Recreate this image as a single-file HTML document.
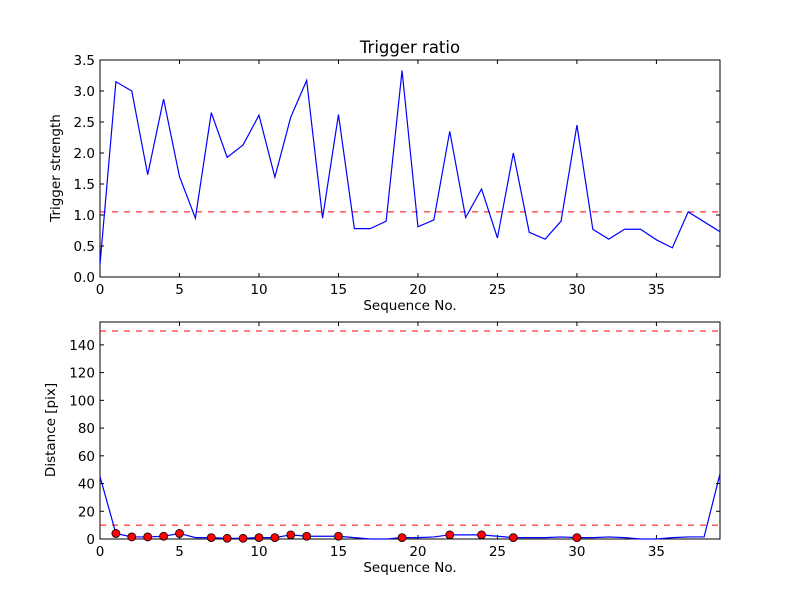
<!DOCTYPE html>
<html><head><meta charset="utf-8"><style>body{margin:0;background:#fff}svg text{font-family:"DejaVu Sans","Liberation Sans",sans-serif}</style></head>
<body>
<svg id="c" width="800" height="600" xmlns="http://www.w3.org/2000/svg"></svg>
<script>
const seq = Array.from({length:40},(_,i)=>i);
const strength = [0.2,3.15,3.0,1.65,2.87,1.62,0.95,2.65,1.93,2.13,2.61,1.61,2.58,3.17,0.95,2.62,0.78,0.78,0.9,3.33,0.81,0.92,2.35,0.96,1.42,0.63,2.0,0.72,0.61,0.9,2.45,0.77,0.61,0.77,0.77,0.6,0.47,1.05,0.89,0.73];
const strengthThreshold = 1.05;
const distance = [45,4,1.5,1.5,2,4,1,1,0.5,0.5,1,1,3,2,2,2,1,0,0,1,1,1.5,3,3,3,2,1,1,1,1.5,1,1,1.5,1,0,0,1,1.5,1.5,47];
const distanceLines = [10,150];
const xTicks = [0,5,10,15,20,25,30,35];
const yTicksTop = [0,0.5,1.0,1.5,2.0,2.5,3.0,3.5];
const yTicksBot = [0,20,40,60,80,100,120,140];
const svg = document.getElementById('c');
const NS='http://www.w3.org/2000/svg';
function mk(t,a,p){const e=document.createElementNS(NS,t);for(const k in a)e.setAttribute(k,a[k]);(p||svg).appendChild(e);return e;}
const L=100,R=720;
const xs=v=>L+(v-0)/39*(R-L);
function panel(top,bot,ymax,ticks,fmt,name){
  const ys=v=>bot-v/ymax*(bot-top);
  const g=mk('g',{});
  
  
  mk('rect',{x:L,y:top,width:R-L,height:bot-top,fill:'#fff',stroke:'#000','stroke-width':1},g);
  xTicks.forEach(t=>{const x=xs(t);
    mk('line',{x1:x,x2:x,y1:bot,y2:bot-4,stroke:'#000'},g);
    mk('line',{x1:x,x2:x,y1:top,y2:top+4,stroke:'#000'},g);
    const tx=mk('text',{x:x,y:bot+17,'text-anchor':'middle','font-size':13.5},g);tx.textContent=t;
    });
  ticks.forEach(t=>{const y=ys(t);
    mk('line',{x1:L,x2:L+4,y1:y,y2:y,stroke:'#000'},g);
    mk('line',{x1:R,x2:R-4,y1:y,y2:y,stroke:'#000'},g);
    const tx=mk('text',{x:L-5,y:y+5,'text-anchor':'end','font-size':13.5},g);tx.textContent=fmt(t);
    });
  const xl=mk('text',{x:(L+R)/2,y:bot+33,'text-anchor':'middle','font-size':13.5},g);xl.textContent='Sequence No.';
  
  return {g,ys};
}
const p1=panel(60,277,3.5,yTicksTop,t=>t.toFixed(1),'trigger-panel');
const cl1=mk('clipPath',{id:'c1'});mk('rect',{x:L,y:60,width:R-L,height:217},cl1);
const th=mk('line',{x1:L,x2:R,y1:p1.ys(strengthThreshold),y2:p1.ys(strengthThreshold),stroke:'#f00','stroke-dasharray':'6,6'},p1.g);

const l1=mk('polyline',{points:seq.map((s,i)=>xs(s)+','+p1.ys(strength[i])).join(' '),fill:'none',stroke:'#00f','stroke-width':1.2,'clip-path':'url(#c1)'},p1.g);

const t1=mk('text',{x:410,y:53,'text-anchor':'middle','font-size':16.5});t1.textContent='Trigger ratio';

const yl1=mk('text',{x:0,y:0,'text-anchor':'middle','font-size':13.5,transform:'translate(60,168) rotate(-90)'});yl1.textContent='Trigger strength';

const p2=panel(322,539,156.5,yTicksBot,t=>t,'distance-panel');
distanceLines.forEach(v=>{const e=mk('line',{x1:L,x2:R,y1:p2.ys(v),y2:p2.ys(v),stroke:'#f00','stroke-dasharray':'6,6'},p2.g);
  });
const l2=mk('polyline',{points:seq.map((s,i)=>xs(s)+','+p2.ys(distance[i])).join(' '),fill:'none',stroke:'#00f','stroke-width':1.2},p2.g);

seq.forEach((s,i)=>{if(strength[i]>strengthThreshold){
  const c=mk('circle',{cx:xs(s),cy:p2.ys(distance[i]),r:4,fill:'#f00',stroke:'#000','stroke-width':0.8},p2.g);
  }});
const yl2=mk('text',{x:0,y:0,'text-anchor':'middle','font-size':13.5,transform:'translate(55,430) rotate(-90)'});yl2.textContent='Distance [pix]';

</script>
</body></html>
